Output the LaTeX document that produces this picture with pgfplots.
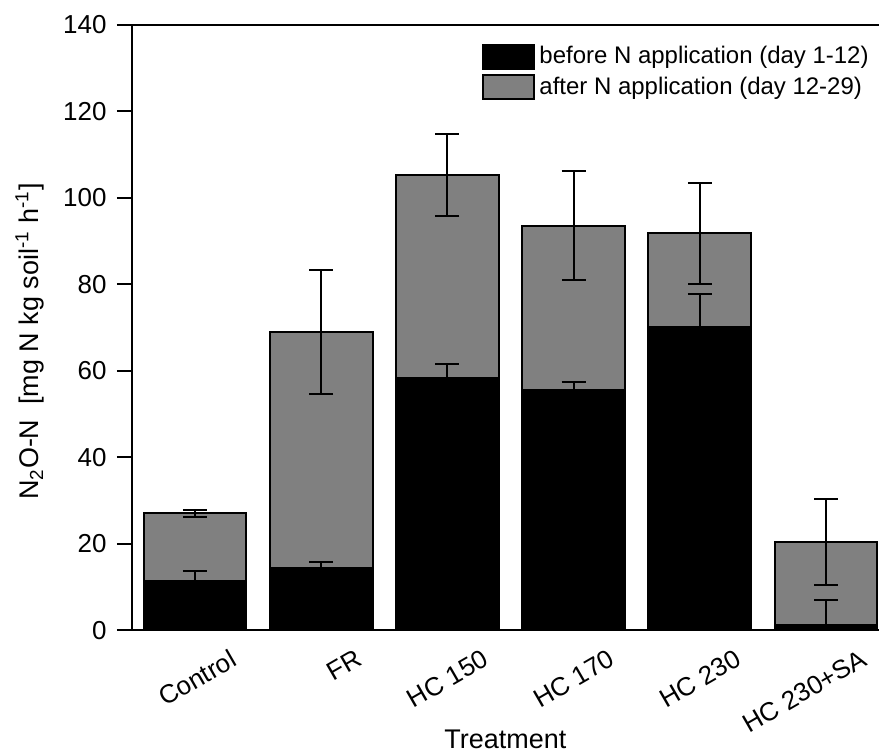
\documentclass[border=0pt]{standalone}
\usepackage{pgfplots}
\pgfplotsset{compat=1.18}
\usepackage{pgfplotstable}
\usepackage{fontspec}
\setmainfont{Liberation Sans}

\pgfplotstableread{
x total totalerr before beforeerr
0 27.1 0.8 11.4 2.3
1 69.0 14.3 14.5 1.4
2 105.3 9.5 58.4 3.2
3 93.6 12.6 55.7 1.7
4 91.8 11.6 70.2 7.6
5 20.4 9.9 1.3 5.7
}\datatable

\begin{document}
\begin{tikzpicture}
\begin{axis}[
  name=ax,
  scale only axis,
  width=374pt, height=303pt,
  xmin=-0.5, xmax=5.42,
  ymin=0, ymax=140,
  axis x line=box,
  axis y line=left,
  axis line style={-, line width=1pt},
  ytick={0,20,...,140},
  tick align=outside,
  major tick length=7.5pt,
  ytick style={line width=1pt, black},
  xtick={0,1,2,3,4,5},
  xticklabels={Control,FR,HC 150,HC 170,HC 230,HC 230+SA},
  xtick style={draw=none},
  /pgf/number format/assume math mode=true,
  yticklabel style={font=\fontsize{13}{15}\selectfont, inner sep=0pt, xshift=-5pt},
  xticklabel style={font=\fontsize{13}{15}\selectfont, inner sep=0pt, xshift=17pt, yshift=-1.5pt, rotate=30, anchor=north east},
  xlabel={Treatment},
  ylabel={N\textsubscript{2}O-N\ \ [mg N kg soil\textsuperscript{-1} h\textsuperscript{-1}]},
  x label style={at={([yshift=-59pt]axis description cs:0.5,0)}, anchor=base, font=\fontsize{13.5}{16}\selectfont},
  y label style={at={([xshift=-51pt]axis description cs:0,0.477)}, anchor=center, font=\fontsize{13.5}{16}\selectfont},
  ybar,
  bar width=0.815,
  bar shift=0pt,
  legend cell align=left,
  reverse legend,
  legend image code/.code={\draw[#1, line width=1pt] (0pt,-6pt) rectangle (26pt,6pt);},
  legend style={draw=none, fill=none, at={(axis description cs:1,1)}, anchor=north east,
    xshift=-3pt, yshift=-8.5pt, font=\fontsize{12}{14}\selectfont, row sep=1pt, inner sep=0pt},
]
\addplot[fill=black!50, draw=black, line width=1pt,
  error bars/.cd, y dir=both, y explicit,
  error bar style={line width=1pt, black},
  error mark options={rotate=90, line width=1pt, mark size=6pt, black}]
  table[x=x, y=total, y error=totalerr] {\datatable};
\addlegendentry{after N application (day 12-29)}
\addplot[fill=black, draw=black, line width=0.5pt,
  error bars/.cd, y dir=both, y explicit,
  error bar style={line width=1pt, black},
  error mark options={rotate=90, line width=1pt, mark size=6pt, black}]
  table[x=x, y=before, y error=beforeerr] {\datatable};
\addlegendentry{before N application (day 1-12)}
\end{axis}
\path ([shift={(-66pt,-60.5pt)}]ax.south west) rectangle ([shift={(0pt,12.5pt)}]ax.north east);
\end{tikzpicture}
\end{document}
